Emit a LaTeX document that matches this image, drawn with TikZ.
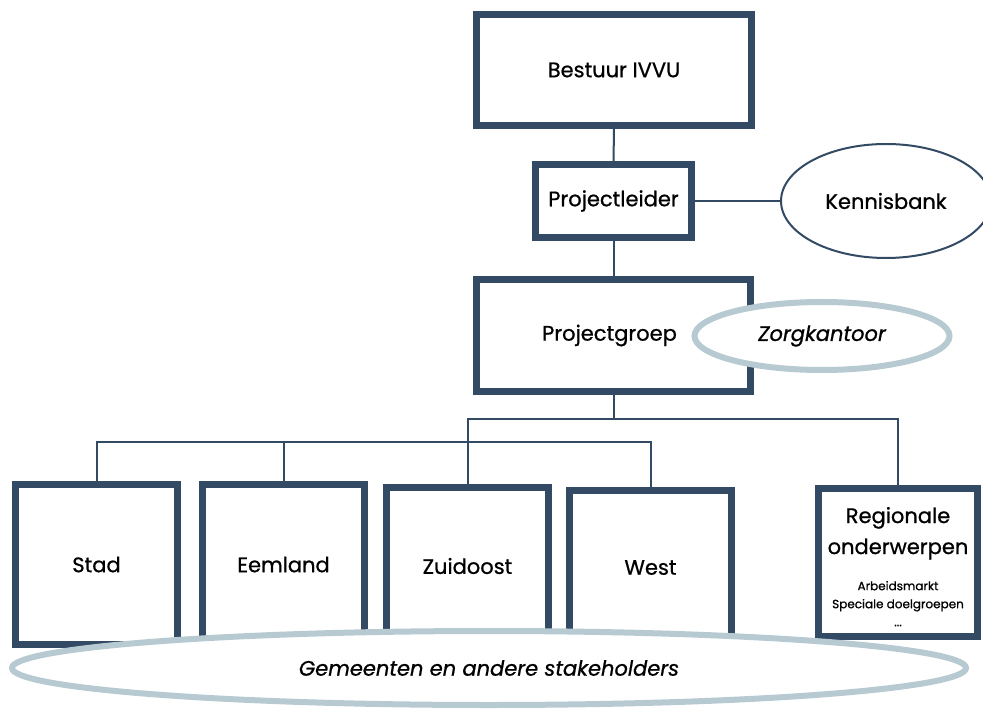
\documentclass[tikz,border=0pt]{standalone}
\usepackage{fontspec}
\setmainfont{Poppins}[FakeBold=0.8]
\usetikzlibrary{positioning, shapes.geometric}

\definecolor{slate}{RGB}{50,74,99}
\definecolor{mist}{RGB}{183,202,210}

\tikzset{
  box/.style={draw=slate, line width=3.5pt, fill=white, align=center, inner sep=0pt, outer sep=0pt},
  link/.style={draw=slate, line width=1pt},
  bigoval/.style={ellipse, draw=mist, line width=3pt, fill=white, inner sep=0pt},
  thinoval/.style={ellipse, draw=slate, line width=1pt, fill=white, inner sep=0pt, outer sep=0pt},
  lbl/.style={font=\fontsize{10.5}{15.5}\selectfont},
  small/.style={font=\fontsize{6}{9}\selectfont}
}

\begin{document}
\begin{tikzpicture}[x=0.5pt, y=-0.5pt]

% frame = reference size in px
\useasboundingbox (0,0) rectangle (983,710);

% top column
\node[box, lbl, minimum width=137.5pt, minimum height=55.5pt] (bestuur) at (614,70) {Bestuur IVVU};
\node[box, lbl, minimum width=78pt, minimum height=36.5pt] (leider) at (613.5,201) {Projectleider};
\node[box, lbl, minimum width=137pt, minimum height=56pt] (groep) at (613.5,335.5) {Projectgroep\hspace{4pt}};
\node[thinoval, lbl, minimum width=105pt, minimum height=57pt] (kennis) at (886,201) {Kennisbank};

% regions
\node[box, lbl, minimum width=81pt, minimum height=80pt] (stad) at (96.5,564.5) {\raisebox{-3pt}{Stad}};
\node[box, lbl, minimum width=81pt, minimum height=80pt] (eemland) at (283.5,564.5) {Eemland};
\node[box, lbl, minimum width=81pt, minimum height=79pt] (zuid) at (467.5,566) {Zuidoost};
\node[box, lbl, minimum width=81pt, minimum height=77.5pt] (west) at (650.5,567.5) {West};
\node[box, minimum width=79.5pt, minimum height=74pt] (regio) at (898,562.5) {};
\node[lbl, align=center, anchor=north] (regiotxt) at (898,500) {Regionale\\onderwerpen};
\node[small, align=center, anchor=north] (regiosub) at (898,574) {Arbeidsmarkt\\Speciale doelgroepen\\...};

% connectors
\coordinate (hub) at (613.5,419);
\coordinate (hub2) at (467.5,442);
\draw[link] (bestuur.south) -- (leider.north);
\draw[link] (leider.south) -- (groep.north);
\draw[link] (leider.east) -- (kennis.west);
\draw[link] (groep.south) -- (hub);
\draw[link] (zuid.north) |- (hub) -| (regio.north);
\draw[link] (stad.north) |- (hub2) -| (west.north);
\draw[link] (eemland.north) -- (eemland.north |- hub2);

% redraw boxes on top of the lines
\foreach \b in {bestuur, leider, groep, stad, eemland, zuid, west, regio}
  \draw[slate, line width=3.5pt] (\b.north west) rectangle (\b.south east);

% ovals over the boxes
\node[bigoval, lbl, minimum width=127.5pt, minimum height=34pt] (zorg) at (822,336) {\itshape Zorgkantoor};
\node[bigoval, lbl, minimum width=477pt, minimum height=37pt] (gemeenten) at (489,668) {\itshape Gemeenten en andere stakeholders};

\end{tikzpicture}
\end{document}
